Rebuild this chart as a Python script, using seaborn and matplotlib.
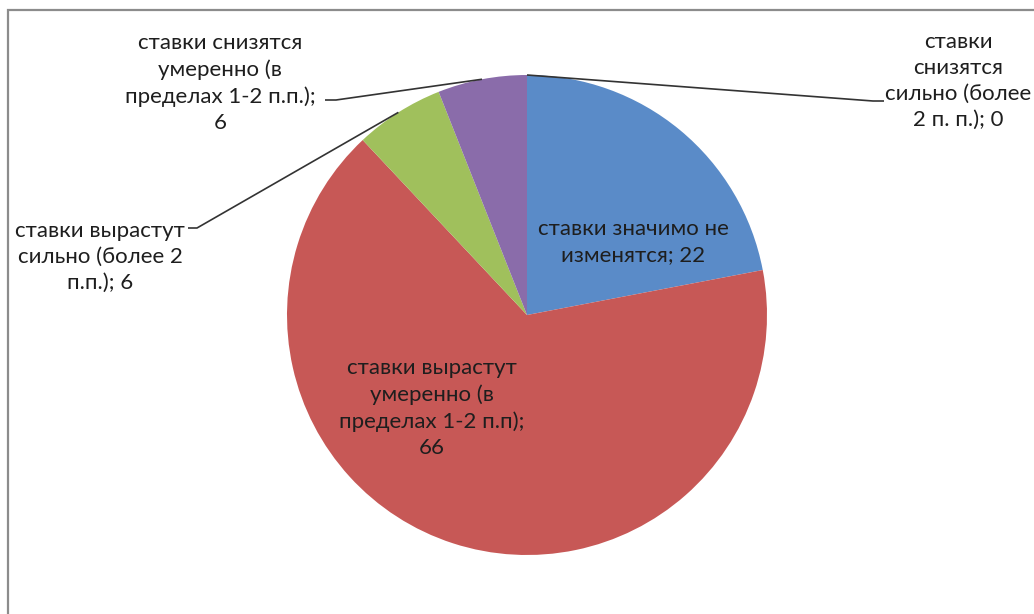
import matplotlib
matplotlib.use("Agg")
import matplotlib.pyplot as plt
import seaborn as sns
import numpy as np
from matplotlib.patches import Rectangle

categories = [
    "ставки значимо не\nизменятся; 22",
    "ставки вырастут\nумеренно (в\nпределах 1-2 п.п);\n66",
    "ставки вырастут\nсильно (более 2\nп.п.); 6",
    "ставки снизятся\nумеренно (в\nпределах 1-2 п.п.);\n6",
    "ставки\nснизятся\nсильно (более\n2 п. п.); 0",
]
values = [22, 66, 6, 6, 0]
colors = ["#5A8BC8", "#C75856", "#A0C05C", "#8A6CAA", "#7FA6D6"]

sns.set_theme(style="white")
plt.rcParams["font.family"] = ["Lato", "DejaVu Sans"]

W, H, DPI = 1034, 614, 100
fig = plt.figure(figsize=(W / DPI, H / DPI), dpi=DPI)
ax = fig.add_axes([0, 0, 1, 1])

cx, cy, R = 527, 315, 240  # pixel layout of pie

wedges, _ = ax.pie(values, colors=colors, startangle=90, counterclock=False,
                   radius=1.0, center=(0, 0), wedgeprops=dict(linewidth=0))
ax.set_xlim(-cx / R, (W - cx) / R)
ax.set_ylim(-(H - cy) / R, cy / R)
ax.set_aspect("auto")
ax.axis("off")


def px(x, y):
    return (x - cx) / R, (cy - y) / R


fs = 16
tc = "#1e1e1e"
ls = 1.38
# inside labels
ax.text(*px(633, 242), categories[0], ha="center", va="center", fontsize=fs,
        color=tc, linespacing=ls)
ax.text(*px(432, 408), categories[1], ha="center", va="center", fontsize=fs,
        color=tc, linespacing=ls)

# outside labels with leader lines
outside = [
    (2, (100, 257), (188, 228), (197, 228)),
    (3, (220, 83), (325, 100), (336, 100)),
    (4, (958, 81), (884, 101), (873, 101)),
]
for idx, (tx, ty), (sx, sy), (bx, by) in outside:
    ax.text(*px(tx, ty), categories[idx], ha="center", va="center", fontsize=fs,
            color=tc, linespacing=ls)
    w = wedges[idx]
    mid = np.deg2rad((w.theta1 + w.theta2) / 2)
    ex, ey = w.r * np.cos(mid), w.r * np.sin(mid)
    p0 = px(sx, sy)
    p1 = px(bx, by)
    ax.plot([p0[0], p1[0], ex], [p0[1], p1[1], ey], color="#333333", lw=1.2,
            solid_capstyle="butt")

# chart frame
fig.patches.append(Rectangle((8 / W, -0.05), 1.2, 1.05 - 10 / H,
                             transform=fig.transFigure, fill=False,
                             edgecolor="#8c8c8c", lw=1.6))

fig.savefig("out.png", dpi=DPI, facecolor="white")
